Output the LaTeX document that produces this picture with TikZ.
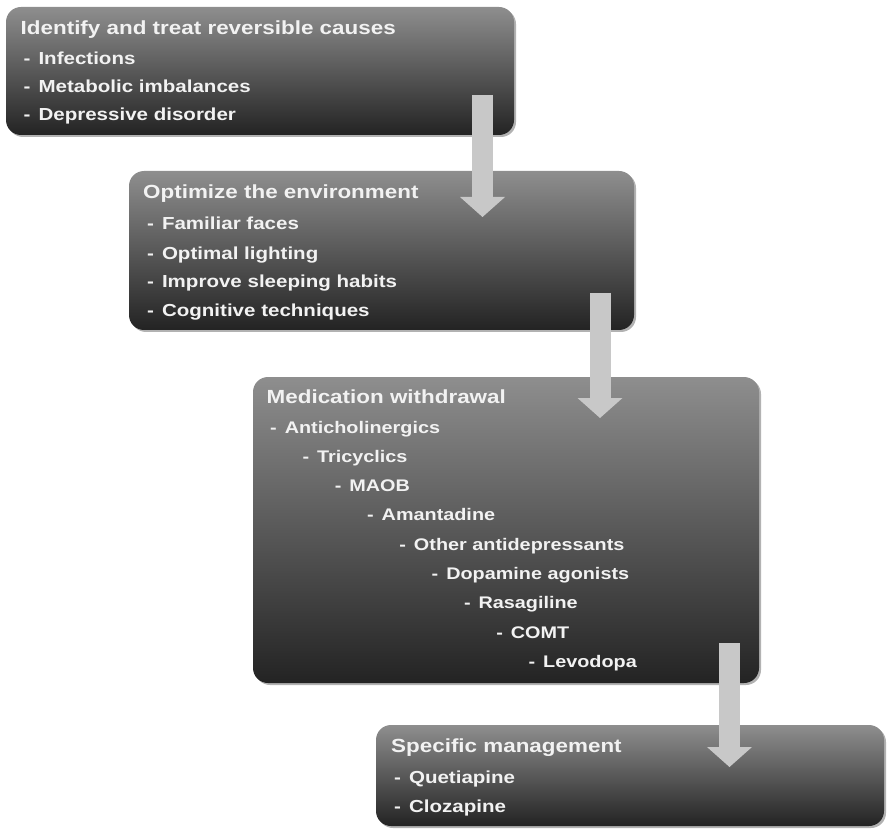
\documentclass[tikz,border=0pt]{standalone}
\usepackage{fontspec}
\setmainfont[FakeStretch=1.18]{Liberation Sans}
\usepackage{tikz}
\usetikzlibrary{arrows.meta, shadows}
\definecolor{boxtop}{HTML}{8E8E8E}
\definecolor{boxbot}{HTML}{232323}
\definecolor{arrowgray}{HTML}{C8C8C8}
\definecolor{txtwhite}{HTML}{F2F2F2}
\newcommand{\dsh}{-\hspace{8pt}}

\begin{document}
\begin{tikzpicture}[x=1pt, y=-1pt,
    stepbox/.style={rounded corners=15pt, top color=boxtop, bottom color=boxbot, draw=none, inner sep=0pt,
        drop shadow={shadow xshift=2pt, shadow yshift=-2pt, fill=black!30, opacity=1}},
    headtext/.style={anchor=base west, inner sep=0pt, text=txtwhite, font=\bfseries\fontsize{19}{20}\selectfont},
    itemtext/.style={anchor=base west, inner sep=0pt, text=txtwhite, font=\bfseries\fontsize{17.4}{20}\selectfont},
    blockarrow/.style={line width=21pt, draw=arrowgray, -{Triangle[width=45pt, length=20pt, line width=0pt]}}]
    \useasboundingbox (0,0) rectangle (887,829);

    % Boxes
    \node[stepbox, minimum width=508pt, minimum height=128pt] (b1) at (260,71) {};
    \node[stepbox, minimum width=505pt, minimum height=159pt] (b2) at (381.5,250.5) {};
    \node[stepbox, minimum width=506pt, minimum height=306pt] (b3) at (506,530) {};
    \node[stepbox, minimum width=508pt, minimum height=101pt] (b4) at (630,775.5) {};

    % Reversible causes
    \node[headtext] (h1) at (20.5,35) {Identify and treat reversible causes};
    \node[itemtext] (c1) at (23.5,65) {\dsh Infections};
    \node[itemtext] (c2) at (23.5,93) {\dsh Metabolic imbalances};
    \node[itemtext] (c3) at (23.5,121) {\dsh Depressive disorder};

    % Environment
    \node[headtext] (h2) at (143,199) {Optimize the environment};
    \node[itemtext] (e1) at (147,230) {\dsh Familiar faces};
    \node[itemtext] (e2) at (147,260) {\dsh Optimal lighting};
    \node[itemtext] (e3) at (147,288) {\dsh Improve sleeping habits};
    \node[itemtext] (e4) at (147,317) {\dsh Cognitive techniques};

    % Withdrawal, one step further right per drug
    \node[headtext] (h3) at (266.5,403) {Medication withdrawal};
    \foreach \drug [count=\i from 0] in {Anticholinergics, Tricyclics, MAOB, Amantadine,
        Other antidepressants, Dopamine agonists, Rasagiline, COMT, Levodopa}
        \node[itemtext, font=\bfseries\fontsize{16.8}{20}\selectfont] (w\i) at (270+32.3*\i, 433+29.3*\i) {\dsh \drug};

    % Specific management
    \node[headtext] (h4) at (391,752) {Specific management};
    \node[itemtext] (s1) at (394,783) {\dsh Quetiapine};
    \node[itemtext] (s2) at (394,812) {\dsh Clozapine};

    % Arrows
    \coordinate (a1) at (482.5,95);  \coordinate (p1) at (482.5,217);
    \coordinate (a2) at (600,293);   \coordinate (p2) at (600,418);
    \coordinate (a3) at (729.5,643); \coordinate (p3) at (729.5,767);
    \draw[blockarrow] (a1) -- (p1);
    \draw[blockarrow] (a2) -- (p2);
    \draw[blockarrow] (a3) -- (p3);
\end{tikzpicture}
\end{document}
